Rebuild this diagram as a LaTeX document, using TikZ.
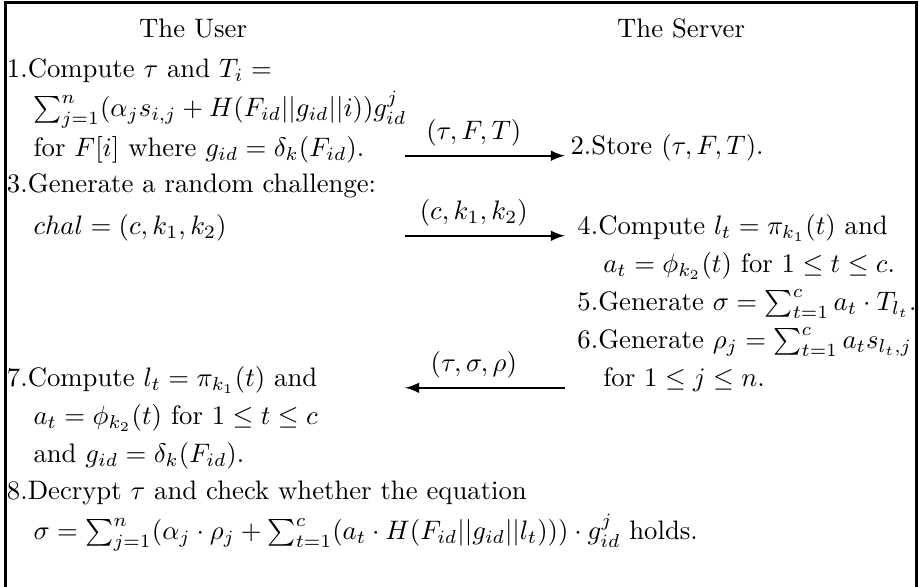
\documentclass[tikz,border=0pt]{standalone}
\usepackage{amsmath}
\usepackage{amssymb}
\usepackage{tikz}

\begin{document}
\begin{tikzpicture}[
    txt/.style={anchor=base west, inner sep=0pt},
    head/.style={anchor=base, inner sep=0pt},
    msg/.style={thick, -latex},
    lbl/.style={above, inner sep=3.3pt}]
      \useasboundingbox (0,0) rectangle (12.09,7.72);
      \draw [line width=1pt] (0.07,0) -- (0.07,7.69) -- (12.06,7.69) -- (12.06,0);

      \node[head] (user) at (2.54,7.224) {The User};
      \node[head] (server) at (8.96,7.224) {The Server};

      \node[txt] (uone) at (0.085,6.697) {1.Compute $\tau$ and $T_i =$};
      \node[txt] (uonesum) at (0.434,6.184) {$\sum_{j=1}^{n}(\alpha_j s_{i,j}+H(F_{id}||g_{id}||i))g_{id}^{j}$};
      \node[txt] (uonefor) at (0.434,5.658) {for $F[i]$ where $g_{id}=\delta_k(F_{id})$.};
      \node[txt] (uthree) at (0.085,5.184) {3.Generate a random challenge:};
      \node[txt] (uthreechal) at (0.434,4.632) {$chal=(c,k_1,k_2)$};

      \node[txt] (stwo) at (7.50,5.684) {2.Store $(\tau,F,T)$.};
      \node[txt] (sfour) at (7.59,4.632) {4.Compute $l_t=\pi_{k_1}(t)$ and};
      \node[txt] (sfourat) at (7.93,4.132) {$a_t=\phi_{k_2}(t)$ for $1\le t\le c$.};
      \node[txt] (sfive) at (7.59,3.632) {5.Generate $\sigma=\sum_{t=1}^{c}a_t\cdot T_{l_t}$.};
      \node[txt] (ssix) at (7.59,3.132) {6.Generate $\rho_j=\sum_{t=1}^{c}a_t s_{l_t,j}$};
      \node[txt] (ssixfor) at (7.93,2.632) {for $1\le j\le n$.};

      \node[txt] (useven) at (0.085,2.632) {7.Compute $l_t=\pi_{k_1}(t)$ and};
      \node[txt] (usevenat) at (0.434,2.132) {$a_t=\phi_{k_2}(t)$ for $1\le t\le c$};
      \node[txt] (usevengid) at (0.434,1.632) {and $g_{id}=\delta_k(F_{id})$.};
      \node[txt] (ueight) at (0.085,1.145) {8.Decrypt $\tau$ and check whether the equation};
      \node[txt] (ueighteq) at (0.434,0.618) {$\sigma=\sum_{j=1}^{n}(\alpha_j\cdot\rho_j+\sum_{t=1}^{c}(a_t\cdot H(F_{id}||g_{id}||l_t)))\cdot g_{id}^{j}$ holds.};

      \coordinate (upload) at (5.33,5.671);
      \coordinate (stored) at (7.43,5.671);
      \coordinate (chalout) at (5.33,4.618);
      \coordinate (chalin) at (7.43,4.618);
      \coordinate (proofout) at (7.43,2.618);
      \coordinate (proofin) at (5.33,2.618);

      \draw[msg] (upload) -- node[lbl, pos=0.43] {$(\tau,F,T)$} (stored);
      \draw[msg] (chalout) -- node[lbl, pos=0.43] {$(c,k_1,k_2)$} (chalin);
      \draw[msg] (proofout) -- node[lbl, pos=0.57] {$(\tau,\sigma,\rho)$} (proofin);
\end{tikzpicture}
\end{document}
